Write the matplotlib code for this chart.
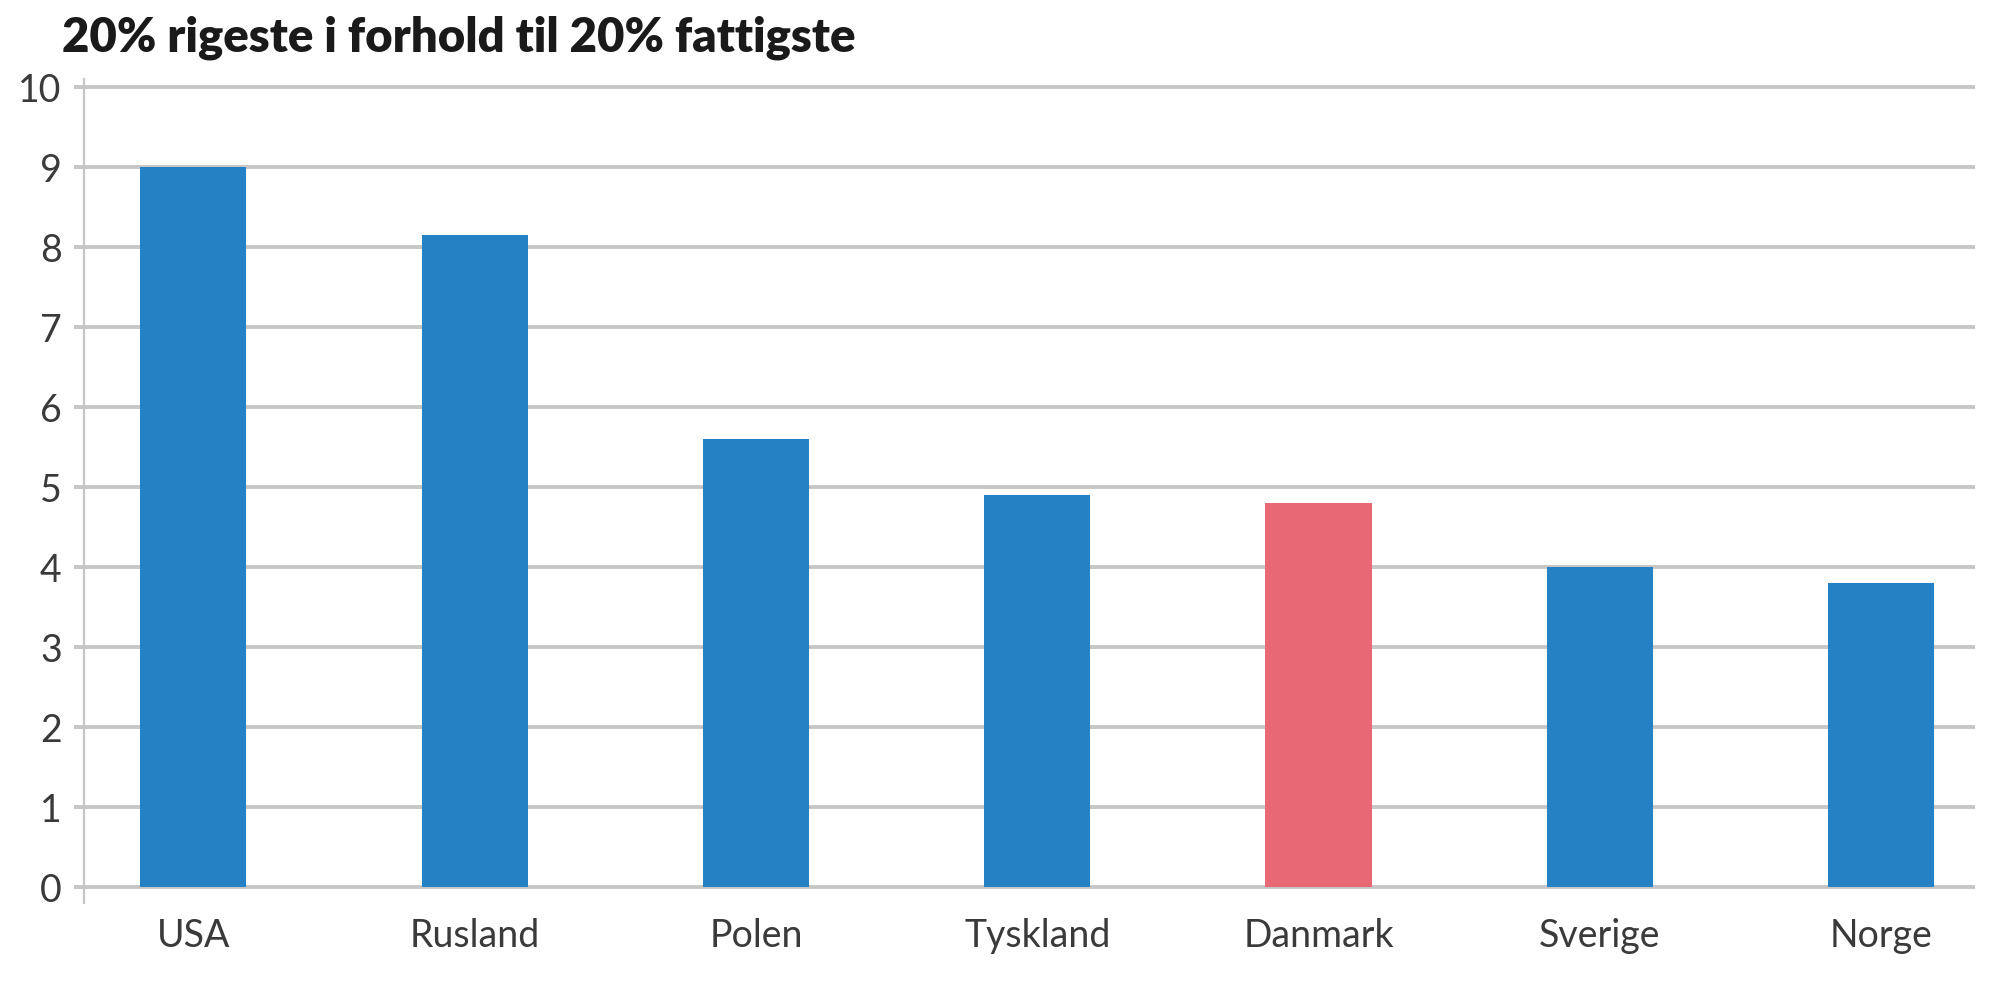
import matplotlib
matplotlib.use("Agg")
import matplotlib.pyplot as plt

# data
countries = ["USA", "Rusland", "Polen", "Tyskland", "Danmark", "Sverige", "Norge"]
ratio = [9.0, 8.15, 5.6, 4.9, 4.8, 4.0, 3.8]
highlight = "Danmark"
yticks = list(range(0, 11))

BLUE = "#2581c3"
RED = "#e96876"
GRID = "#c6c6c6"
TEXT = "#3a3a3a"

plt.rcParams["font.family"] = ["Lato", "DejaVu Sans"]

fig = plt.figure(figsize=(20, 10), dpi=100)
ax = fig.add_axes([0.042, 0.097, 0.9455, 0.824])

colors = [RED if c == highlight else BLUE for c in countries]
x = range(len(countries))
ax.bar(x, ratio, width=0.377, color=colors, zorder=3)

ax.set_xlim(-0.389, 6.334)
ax.set_ylim(-0.2, 10.1)
ax.set_yticks(yticks)
ax.set_xticks(list(x))
ax.set_xticklabels(countries)

ax.grid(axis="y", color=GRID, lw=2.8, zorder=0)
ax.grid(axis="x", visible=False)
for s in ["top", "right", "bottom"]:
    ax.spines[s].set_visible(False)
ax.spines["left"].set_color(GRID)
ax.spines["left"].set_linewidth(1.6)

ax.tick_params(axis="y", length=7, width=2.8, color=GRID, pad=9,
               labelsize=27, labelcolor=TEXT)
ax.tick_params(axis="x", length=0, pad=11, labelsize=27, labelcolor=TEXT)

fig.text(0.031, 0.949, "20% rigeste i forhold til 20% fattigste",
         fontsize=34, fontweight="heavy", color="#1a1a1a", va="baseline")

fig.savefig("out.png", dpi=100, facecolor="white")
